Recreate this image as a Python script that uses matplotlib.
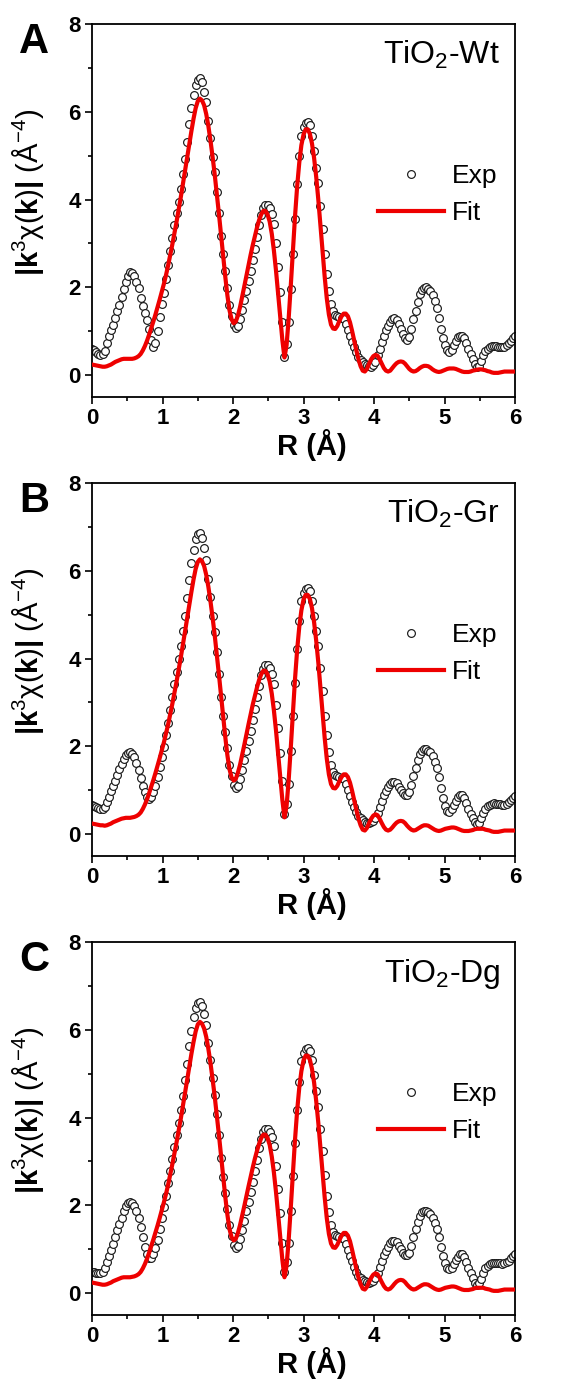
import numpy as np
import matplotlib
matplotlib.use("Agg")
import matplotlib.pyplot as plt

plt.rcParams["font.family"] = ["Liberation Sans", "DejaVu Sans"]
plt.rcParams["mathtext.fontset"] = "custom"
plt.rcParams["mathtext.rm"] = "Liberation Sans"
plt.rcParams["mathtext.it"] = "Liberation Sans:italic"
plt.rcParams["mathtext.bf"] = "Liberation Sans:bold"

# radial distance grid (Angstrom), 0.03 step
R = np.linspace(0.0, 6.0, 201)

# |k^3 chi(k)| magnitudes, one value per grid point
exp_wt = [
    0.60, 0.56, 0.52, 0.48, 0.46, 0.47, 0.55, 0.72, 0.88, 1.02,
    1.15, 1.30, 1.45, 1.60, 1.78, 1.95, 2.12, 2.26, 2.34, 2.33,
    2.25, 2.12, 1.98, 1.75, 1.58, 1.42, 1.25, 1.05, 0.80, 0.65,
    0.72, 1.00, 1.32, 1.62, 1.88, 2.20, 2.50, 2.82, 3.12, 3.42,
    3.70, 3.95, 4.25, 4.58, 4.92, 5.30, 5.72, 6.08, 6.38, 6.60,
    6.72, 6.76, 6.68, 6.45, 6.22, 5.80, 5.40, 4.98, 4.62, 4.18,
    3.70, 3.18, 2.75, 2.38, 1.98, 1.60, 1.35, 1.15, 1.07, 1.12,
    1.28, 1.48, 1.70, 1.92, 2.15, 2.38, 2.63, 2.88, 3.15, 3.42,
    3.65, 3.80, 3.88, 3.88, 3.80, 3.68, 3.45, 3.00, 2.47, 1.90,
    1.21, 0.42, 0.70, 1.21, 1.96, 2.75, 3.55, 4.35, 5.00, 5.45,
    5.65, 5.74, 5.76, 5.70, 5.45, 5.10, 4.72, 4.38, 3.85, 3.32,
    2.75, 2.30, 1.92, 1.62, 1.46, 1.38, 1.35, 1.33, 1.31, 1.28,
    1.16, 1.02, 0.88, 0.76, 0.64, 0.52, 0.42, 0.35, 0.30, 0.26,
    0.22, 0.20, 0.19, 0.22, 0.30, 0.45, 0.60, 0.75, 0.90, 1.03,
    1.12, 1.20, 1.28, 1.30, 1.26, 1.16, 1.05, 0.94, 0.84, 0.80,
    0.86, 1.06, 1.28, 1.45, 1.66, 1.84, 1.94, 1.98, 2.00, 1.97,
    1.92, 1.82, 1.68, 1.52, 1.30, 1.05, 0.85, 0.68, 0.56, 0.52,
    0.58, 0.68, 0.78, 0.86, 0.90, 0.90, 0.84, 0.72, 0.60, 0.48,
    0.36, 0.26, 0.18, 0.20, 0.32, 0.45, 0.54, 0.60, 0.64, 0.66,
    0.67, 0.66, 0.65, 0.65, 0.64, 0.65, 0.68, 0.72, 0.78, 0.84,
    0.90,
]
fit_wt = [
    0.24, 0.23, 0.22, 0.21, 0.20, 0.19, 0.19, 0.20, 0.22, 0.24,
    0.27, 0.30, 0.32, 0.34, 0.36, 0.37, 0.37, 0.37, 0.37, 0.37,
    0.38, 0.40, 0.43, 0.48, 0.56, 0.66, 0.78, 0.92, 1.07, 1.22,
    1.38, 1.55, 1.72, 1.90, 2.08, 2.28, 2.50, 2.74, 2.98, 3.24,
    3.50, 3.78, 4.06, 4.36, 4.66, 4.96, 5.26, 5.56, 5.84, 6.08,
    6.24, 6.30, 6.26, 6.15, 5.95, 5.68, 5.35, 4.98, 4.58, 4.14,
    3.68, 3.20, 2.72, 2.25, 1.82, 1.48, 1.27, 1.18, 1.22, 1.36,
    1.55, 1.78, 2.02, 2.26, 2.50, 2.74, 2.96, 3.16, 3.36, 3.53,
    3.66, 3.74, 3.74, 3.66, 3.50, 3.22, 2.84, 2.38, 1.86, 1.32,
    0.80, 0.40, 0.68, 1.30, 2.05, 2.85, 3.62, 4.30, 4.84, 5.24,
    5.48, 5.60, 5.60, 5.50, 5.28, 4.95, 4.52, 4.00, 3.42, 2.82,
    2.25, 1.75, 1.38, 1.15, 1.06, 1.05, 1.12, 1.24, 1.34, 1.40,
    1.40, 1.34, 1.20, 1.00, 0.78, 0.56, 0.36, 0.20, 0.10, 0.08,
    0.14, 0.26, 0.36, 0.43, 0.46, 0.44, 0.36, 0.26, 0.16, 0.10,
    0.08, 0.10, 0.16, 0.22, 0.27, 0.30, 0.31, 0.30, 0.26, 0.20,
    0.14, 0.10, 0.08, 0.09, 0.12, 0.16, 0.19, 0.21, 0.21, 0.20,
    0.17, 0.13, 0.10, 0.08, 0.07, 0.08, 0.10, 0.12, 0.14, 0.15,
    0.15, 0.15, 0.14, 0.12, 0.10, 0.08, 0.07, 0.07, 0.07, 0.08,
    0.10, 0.11, 0.12, 0.13, 0.13, 0.12, 0.11, 0.09, 0.08, 0.06,
    0.05, 0.05, 0.05, 0.06, 0.07, 0.08, 0.08, 0.08, 0.08, 0.08,
    0.08,
]

exp_gr = [
    0.66, 0.64, 0.62, 0.60, 0.58, 0.58, 0.62, 0.72, 0.85, 0.98,
    1.10, 1.22, 1.35, 1.48, 1.60, 1.72, 1.80, 1.85, 1.86, 1.83,
    1.75, 1.62, 1.45, 1.28, 1.10, 0.95, 0.84, 0.80, 0.85, 0.95,
    1.10, 1.30, 1.52, 1.75, 1.98, 2.25, 2.52, 2.82, 3.12, 3.42,
    3.70, 3.98, 4.28, 4.62, 4.98, 5.38, 5.80, 6.18, 6.48, 6.72,
    6.84, 6.86, 6.75, 6.52, 6.25, 5.82, 5.40, 4.98, 4.60, 4.15,
    3.65, 3.12, 2.70, 2.32, 1.95, 1.58, 1.32, 1.12, 1.04, 1.10,
    1.26, 1.46, 1.68, 1.90, 2.12, 2.35, 2.60, 2.85, 3.12, 3.38,
    3.62, 3.77, 3.85, 3.86, 3.78, 3.65, 3.42, 2.95, 2.42, 1.85,
    1.20, 0.46, 0.68, 1.15, 1.90, 2.68, 3.45, 4.22, 4.85, 5.30,
    5.50, 5.58, 5.60, 5.55, 5.32, 4.98, 4.62, 4.28, 3.78, 3.26,
    2.70, 2.25, 1.88, 1.58, 1.42, 1.35, 1.32, 1.30, 1.28, 1.25,
    1.14, 1.00, 0.86, 0.74, 0.62, 0.50, 0.42, 0.36, 0.32, 0.28,
    0.26, 0.26, 0.28, 0.30, 0.36, 0.48, 0.62, 0.76, 0.88, 0.98,
    1.07, 1.14, 1.18, 1.19, 1.16, 1.08, 1.00, 0.93, 0.88, 0.88,
    0.95, 1.12, 1.32, 1.50, 1.68, 1.82, 1.90, 1.93, 1.93, 1.90,
    1.86, 1.77, 1.65, 1.50, 1.30, 1.05, 0.82, 0.64, 0.52, 0.50,
    0.56, 0.66, 0.76, 0.84, 0.88, 0.88, 0.82, 0.70, 0.58, 0.46,
    0.36, 0.28, 0.23, 0.26, 0.36, 0.48, 0.57, 0.63, 0.67, 0.69,
    0.70, 0.69, 0.68, 0.68, 0.67, 0.67, 0.69, 0.72, 0.77, 0.82,
    0.86,
]
fit_gr = [
    0.24, 0.23, 0.22, 0.21, 0.20, 0.20, 0.19, 0.20, 0.22, 0.24,
    0.27, 0.29, 0.31, 0.33, 0.35, 0.36, 0.37, 0.37, 0.37, 0.38,
    0.39, 0.41, 0.44, 0.49, 0.57, 0.67, 0.79, 0.93, 1.08, 1.23,
    1.39, 1.56, 1.73, 1.91, 2.09, 2.29, 2.50, 2.73, 2.97, 3.22,
    3.48, 3.75, 4.03, 4.32, 4.62, 4.92, 5.22, 5.52, 5.80, 6.04,
    6.20, 6.26, 6.22, 6.11, 5.91, 5.64, 5.31, 4.94, 4.54, 4.10,
    3.64, 3.16, 2.68, 2.22, 1.80, 1.48, 1.29, 1.22, 1.26, 1.40,
    1.58, 1.80, 2.03, 2.27, 2.50, 2.73, 2.95, 3.15, 3.34, 3.51,
    3.64, 3.72, 3.72, 3.64, 3.48, 3.20, 2.82, 2.36, 1.84, 1.30,
    0.78, 0.38, 0.64, 1.24, 1.98, 2.78, 3.54, 4.20, 4.72, 5.10,
    5.34, 5.45, 5.45, 5.36, 5.15, 4.83, 4.41, 3.91, 3.34, 2.76,
    2.20, 1.72, 1.36, 1.14, 1.05, 1.04, 1.10, 1.21, 1.30, 1.36,
    1.36, 1.30, 1.17, 0.98, 0.76, 0.55, 0.35, 0.20, 0.10, 0.08,
    0.14, 0.25, 0.35, 0.42, 0.45, 0.43, 0.35, 0.25, 0.16, 0.10,
    0.08, 0.10, 0.15, 0.21, 0.26, 0.29, 0.30, 0.29, 0.25, 0.19,
    0.14, 0.10, 0.08, 0.09, 0.12, 0.15, 0.18, 0.20, 0.20, 0.19,
    0.16, 0.13, 0.10, 0.08, 0.07, 0.08, 0.10, 0.12, 0.13, 0.14,
    0.15, 0.15, 0.14, 0.12, 0.10, 0.08, 0.07, 0.07, 0.07, 0.08,
    0.09, 0.11, 0.12, 0.12, 0.12, 0.12, 0.10, 0.09, 0.08, 0.06,
    0.05, 0.05, 0.05, 0.06, 0.07, 0.08, 0.08, 0.08, 0.08, 0.08,
    0.08,
]

exp_dg = [
    0.48, 0.47, 0.46, 0.45, 0.45, 0.47, 0.56, 0.70, 0.84, 0.98,
    1.12, 1.28, 1.44, 1.58, 1.72, 1.86, 1.98, 2.05, 2.08, 2.06,
    1.98, 1.86, 1.70, 1.50, 1.28, 1.06, 0.90, 0.81, 0.80, 0.88,
    1.02, 1.22, 1.45, 1.70, 1.95, 2.22, 2.50, 2.78, 3.05, 3.32,
    3.60, 3.88, 4.18, 4.50, 4.85, 5.22, 5.62, 5.98, 6.28, 6.50,
    6.62, 6.64, 6.55, 6.35, 6.10, 5.70, 5.30, 4.90, 4.52, 4.08,
    3.60, 3.08, 2.65, 2.28, 1.92, 1.55, 1.30, 1.10, 1.02, 1.08,
    1.24, 1.44, 1.65, 1.86, 2.08, 2.30, 2.54, 2.78, 3.04, 3.30,
    3.52, 3.66, 3.74, 3.75, 3.68, 3.56, 3.35, 2.90, 2.38, 1.82,
    1.15, 0.48, 0.70, 1.15, 1.88, 2.66, 3.42, 4.18, 4.82, 5.28,
    5.48, 5.56, 5.58, 5.52, 5.30, 4.96, 4.60, 4.25, 3.75, 3.24,
    2.68, 2.22, 1.85, 1.56, 1.40, 1.33, 1.30, 1.28, 1.26, 1.23,
    1.12, 0.98, 0.84, 0.72, 0.60, 0.49, 0.40, 0.34, 0.30, 0.27,
    0.25, 0.24, 0.25, 0.28, 0.34, 0.46, 0.60, 0.74, 0.86, 0.96,
    1.06, 1.13, 1.18, 1.19, 1.16, 1.08, 1.00, 0.92, 0.87, 0.86,
    0.92, 1.08, 1.28, 1.46, 1.63, 1.76, 1.84, 1.88, 1.88, 1.85,
    1.80, 1.72, 1.60, 1.46, 1.28, 1.06, 0.85, 0.68, 0.57, 0.54,
    0.58, 0.66, 0.75, 0.83, 0.88, 0.88, 0.82, 0.70, 0.58, 0.45,
    0.34, 0.24, 0.19, 0.22, 0.33, 0.46, 0.56, 0.62, 0.66, 0.68,
    0.69, 0.69, 0.68, 0.68, 0.67, 0.68, 0.70, 0.74, 0.79, 0.84,
    0.88,
]
fit_dg = [
    0.24, 0.23, 0.22, 0.21, 0.20, 0.19, 0.19, 0.20, 0.22, 0.24,
    0.27, 0.29, 0.31, 0.33, 0.35, 0.36, 0.36, 0.36, 0.36, 0.37,
    0.38, 0.40, 0.43, 0.48, 0.56, 0.66, 0.78, 0.92, 1.07, 1.22,
    1.38, 1.54, 1.71, 1.89, 2.07, 2.26, 2.47, 2.70, 2.94, 3.19,
    3.44, 3.71, 3.98, 4.27, 4.56, 4.86, 5.16, 5.45, 5.72, 5.96,
    6.12, 6.18, 6.14, 6.03, 5.84, 5.57, 5.25, 4.88, 4.49, 4.06,
    3.61, 3.14, 2.66, 2.20, 1.79, 1.46, 1.27, 1.20, 1.24, 1.37,
    1.55, 1.76, 1.98, 2.21, 2.43, 2.65, 2.86, 3.06, 3.24, 3.40,
    3.53, 3.61, 3.61, 3.53, 3.38, 3.11, 2.75, 2.30, 1.80, 1.27,
    0.76, 0.36, 0.62, 1.22, 1.96, 2.75, 3.50, 4.16, 4.68, 5.06,
    5.30, 5.41, 5.41, 5.32, 5.11, 4.80, 4.38, 3.88, 3.32, 2.74,
    2.19, 1.71, 1.35, 1.13, 1.04, 1.03, 1.10, 1.21, 1.31, 1.37,
    1.37, 1.31, 1.18, 0.98, 0.76, 0.55, 0.35, 0.20, 0.10, 0.08,
    0.14, 0.25, 0.35, 0.42, 0.45, 0.43, 0.35, 0.25, 0.16, 0.10,
    0.08, 0.10, 0.15, 0.21, 0.26, 0.29, 0.30, 0.29, 0.25, 0.19,
    0.14, 0.10, 0.08, 0.09, 0.12, 0.15, 0.18, 0.20, 0.20, 0.19,
    0.16, 0.13, 0.10, 0.08, 0.07, 0.08, 0.10, 0.12, 0.13, 0.14,
    0.15, 0.15, 0.14, 0.12, 0.10, 0.08, 0.07, 0.07, 0.07, 0.08,
    0.09, 0.11, 0.12, 0.12, 0.12, 0.12, 0.10, 0.09, 0.08, 0.06,
    0.05, 0.05, 0.05, 0.06, 0.07, 0.08, 0.08, 0.08, 0.08, 0.08,
    0.08,
]

panel_letters = ["A", "B", "C"]
sample_names = ["TiO$_{\\mathrm{2}}$-Wt", "TiO$_{\\mathrm{2}}$-Gr", "TiO$_{\\mathrm{2}}$-Dg"]
exp_series = [exp_wt, exp_gr, exp_dg]
fit_series = [fit_wt, fit_gr, fit_dg]
x_ticks = [0, 1, 2, 3, 4, 5, 6]
y_ticks = [0, 2, 4, 6, 8]

W, H = 563, 1387
fig = plt.figure(figsize=(W / 100, H / 100), dpi=100)

ax_left, ax_right = 92, 515
ax_tops = [24, 483, 942]
ax_h = 373

for i in range(3):
    top = ax_tops[i]
    ax = fig.add_axes([ax_left / W, 1 - (top + ax_h) / H,
                       (ax_right - ax_left) / W, ax_h / H])
    ax.plot(R, exp_series[i], linestyle="none", marker="o", markersize=5.6,
            markerfacecolor="white", markeredgecolor="#1a1a1a",
            markeredgewidth=0.85, label="Exp", zorder=2)
    ax.plot(R, fit_series[i], color="#ee0000", linewidth=3.0,
            label="Fit", zorder=3)

    ax.set_xlim(0, 6)
    ax.set_ylim(-0.5, 8)
    ax.set_xticks(x_ticks)
    ax.set_yticks(y_ticks)
    ax.set_xticks(np.arange(0.5, 6, 1.0), minor=True)
    ax.set_yticks([1, 3, 5, 7], minor=True)
    ax.tick_params(which="both", direction="out", top=False, right=False,
                   width=1.2, labelsize=16, pad=3)
    ax.tick_params(which="major", length=5)
    ax.tick_params(which="minor", length=3)
    for lab in ax.get_xticklabels() + ax.get_yticklabels():
        lab.set_fontweight("bold")
    for sp in ax.spines.values():
        sp.set_linewidth(1.3)

    ax.set_xlabel("R (Å)", fontsize=21, fontweight="bold")
    ax.xaxis.set_label_coords(0.52, -0.085)
    ax.set_ylabel(r"$\mathbf{|k}^{\mathrm{3}}\mathrm{\chi(}\mathbf{k}\mathrm{)}\mathbf{|}$ (Å$^{\mathrm{-4}}$)",
                  fontsize=21)
    ax.yaxis.set_label_coords(-0.108, 0.55)

    ax.text(-0.172, 1.005, panel_letters[i], transform=ax.transAxes,
            fontsize=30, fontweight="bold", ha="left", va="top")
    ax.text(0.965, 0.96, sample_names[i], transform=ax.transAxes,
            fontsize=23, ha="right", va="top")

    ax.legend(loc="upper left", bbox_to_anchor=(0.676, 0.625), frameon=False,
              fontsize=19, handlelength=2.5, handletextpad=0.3,
              labelspacing=0.5, borderpad=0, borderaxespad=0,
              numpoints=1, markerscale=1.0)

fig.savefig("out.png", dpi=100)
